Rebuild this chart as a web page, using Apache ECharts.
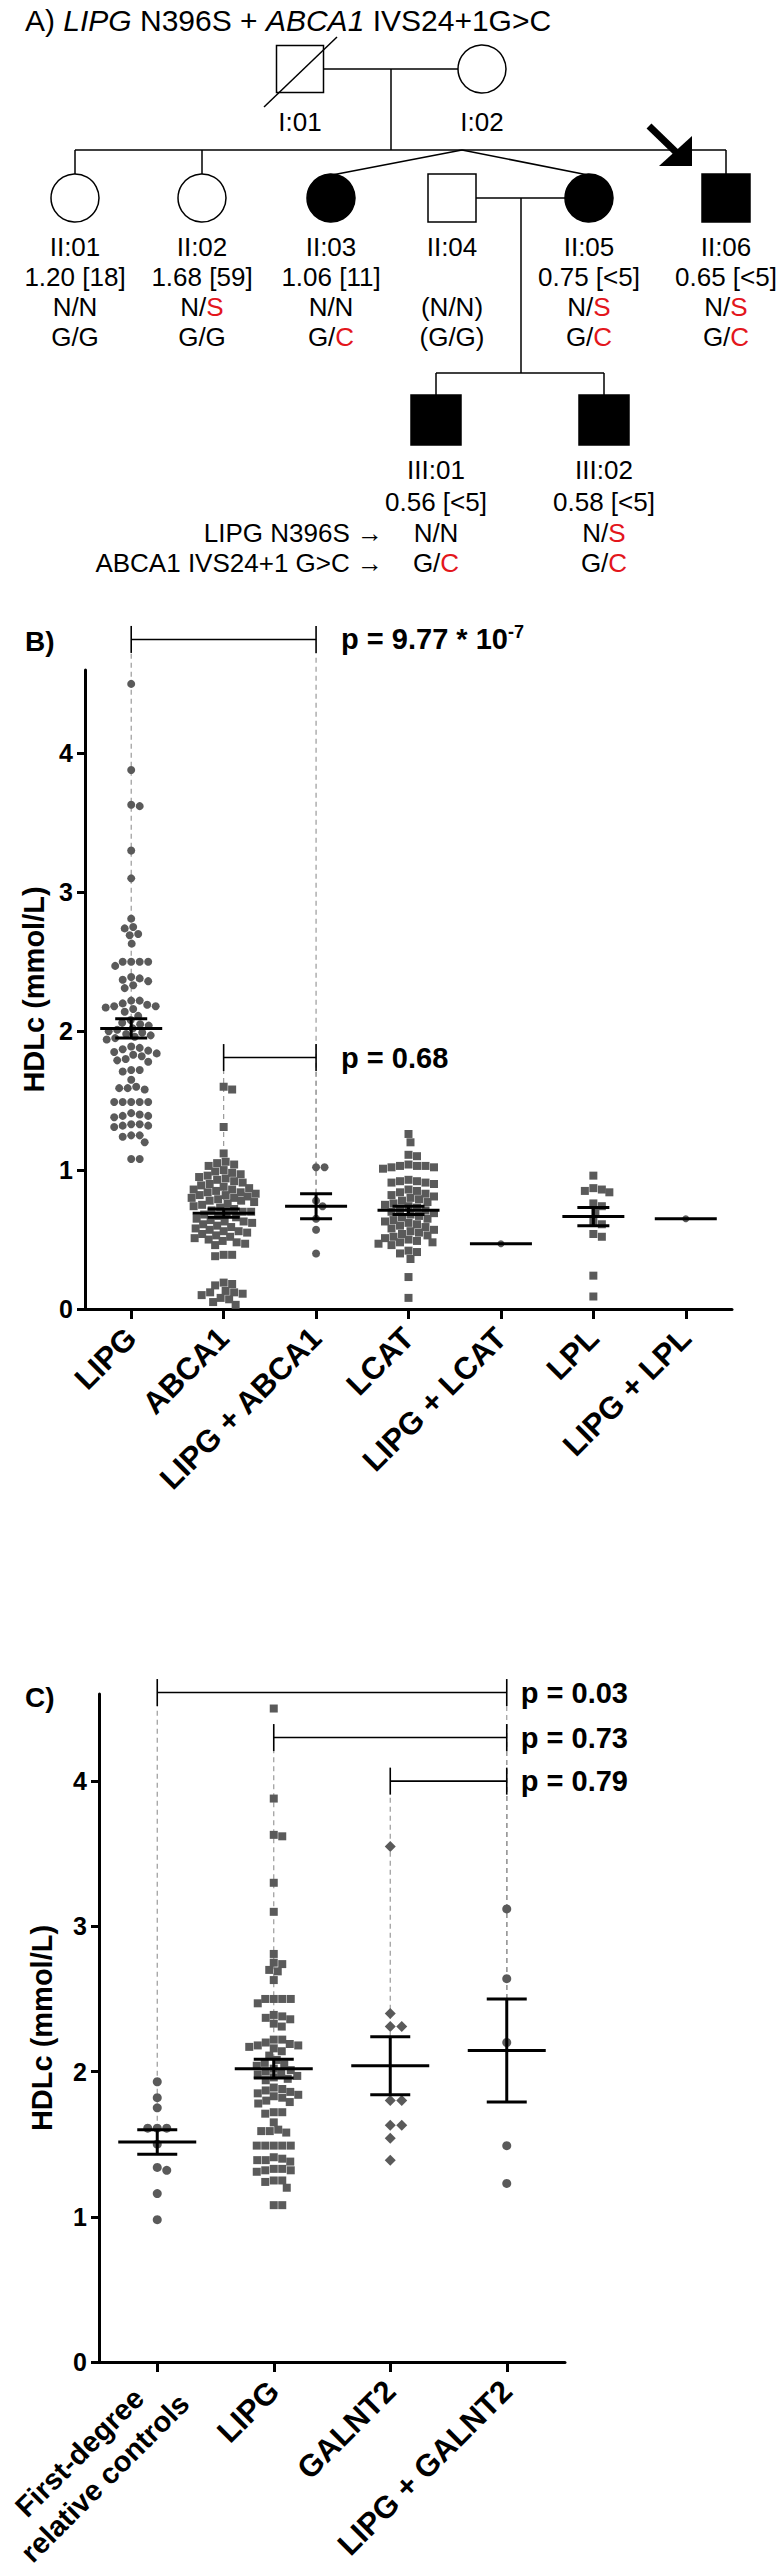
<!DOCTYPE html>
<html><head><meta charset="utf-8">
<script src="https://cdn.jsdelivr.net/npm/echarts@6/dist/echarts.min.js"></script>
<style>html,body{margin:0;padding:0;background:#fff}#c{width:783px;height:2573px}</style>
</head><body><div id="c"></div>
<script>
// ================= DATA =================
// Panel A pedigree
const pedTitle = ['A) ', 'LIPG', ' N396S + ', 'ABCA1', ' IVS24+1G>C'];
const pedIdsI = ['I:01', 'I:02'];
const pedIdsII = ['II:01', 'II:02', 'II:03', 'II:04', 'II:05', 'II:06'];
const pedHdlII = ['1.20 [18]', '1.68 [59]', '1.06 [11]', '', '0.75 [<5]', '0.65 [<5]'];
const pedLipgII = ['N/N', 'N/S', 'N/N', '(N/N)', 'N/S', 'N/S'];
const pedAbcaII = ['G/G', 'G/G', 'G/C', '(G/G)', 'G/C', 'G/C'];
const pedIdsIII = ['III:01', 'III:02'];
const pedHdlIII = ['0.56 [<5]', '0.58 [<5]'];
const pedLipgIII = ['N/N', 'N/S'];
const pedAbcaIII = ['G/C', 'G/C'];
const pedRowNames = ['LIPG N396S \u2192', 'ABCA1 IVS24+1 G>C \u2192'];

// Panel B
const catsB = ['LIPG', 'ABCA1', 'LIPG + ABCA1', 'LCAT', 'LIPG + LCAT', 'LPL', 'LIPG + LPL'];
const lipgHdl = [4.50, 3.88, 3.63, 3.62, 3.30, 3.10,
  2.81, 2.75, 2.74, 2.70, 2.69, 2.63,
  2.50, 2.50, 2.50, 2.50, 2.47,
  2.39, 2.38, 2.37, 2.36, 2.33, 2.31,
  2.22, 2.22, 2.20, 2.19, 2.18, 2.18, 2.17, 2.16, 2.14, 2.11,
  2.08, 2.06, 2.05, 2.04, 2.02, 2.01, 2.00, 1.99, 1.98, 1.97, 1.96, 1.95, 1.94,
  1.89, 1.88, 1.87, 1.86, 1.85, 1.84, 1.83, 1.82, 1.80, 1.79, 1.78,
  1.72, 1.72, 1.71, 1.65,
  1.60, 1.59, 1.58, 1.59,
  1.49, 1.49, 1.49, 1.49, 1.49,
  1.40, 1.39, 1.38, 1.39, 1.41,
  1.33, 1.32, 1.31, 1.32, 1.33,
  1.25, 1.24, 1.25, 1.20,
  1.08, 1.08];
const abca1Hdl = [1.60, 1.58, 1.31, 1.12,
  1.06, 1.05, 1.04, 1.03,
  1.00, 0.99, 0.98, 0.97, 0.96, 0.95, 0.94,
  0.93, 0.92, 0.91, 0.90, 0.89, 0.88,
  0.87, 0.86, 0.86, 0.85, 0.84, 0.84, 0.83,
  0.82, 0.82, 0.81, 0.80, 0.80, 0.79, 0.78, 0.78, 0.77,
  0.76, 0.75, 0.74, 0.73, 0.72, 0.71, 0.70,
  0.70, 0.69, 0.68, 0.67, 0.66, 0.65, 0.64, 0.63,
  0.63, 0.62, 0.61, 0.60, 0.59, 0.58, 0.57, 0.56,
  0.56, 0.55, 0.54, 0.53, 0.52, 0.51, 0.50,
  0.49, 0.48, 0.47, 0.46,
  0.39, 0.38, 0.39,
  0.19, 0.18, 0.17, 0.13, 0.12, 0.12, 0.11, 0.10, 0.08, 0.07, 0.05, 0.03];
const lipgAbca1Hdl = [1.02, 1.02, 0.78, 0.74, 0.65, 0.57, 0.40];
const lcatHdl = [1.26, 1.20, 1.11, 1.10,
  1.04, 1.03, 1.03, 1.02, 1.02, 1.01, 1.03,
  0.93, 0.92, 0.91, 0.91, 0.90, 0.92,
  0.86, 0.85, 0.84, 0.83, 0.82, 0.81, 0.80,
  0.79, 0.78, 0.77, 0.76, 0.75, 0.74, 0.73, 0.72,
  0.71, 0.70, 0.69, 0.68, 0.67, 0.66, 0.65,
  0.64, 0.63, 0.62, 0.61, 0.60, 0.59, 0.58, 0.57, 0.56,
  0.55, 0.54, 0.53, 0.52, 0.51, 0.50,
  0.49, 0.48, 0.48, 0.47, 0.46,
  0.42, 0.40, 0.41, 0.36,
  0.23, 0.08];
const lipgLcatHdl = [0.47];
const lplHdl = [0.96, 0.86, 0.84, 0.85, 0.87, 0.76, 0.74, 0.70, 0.63, 0.61, 0.52, 0.54, 0.24, 0.09];
const lipgLplHdl = [0.65];
const meanB = [2.02, 0.69, 0.74, 0.71, 0.47, 0.665, 0.65];
const semB = [0.07, 0.03, 0.09, 0.03, 0, 0.065, 0];
const bracketFromB = [0, 1];
const bracketToB = [2, 2];
const bracketYB = [4.82, 1.81];
const pMainB = ['p = 9.77 * 10', 'p = 0.68'];
const pExpB = ['-7', ''];

// Panel C
const catsC = ['First-degree\nrelative controls', 'LIPG', 'GALNT2', 'LIPG + GALNT2'];
const controlsHdl = [1.93, 1.82, 1.75, 1.61, 1.61, 1.61, 1.50, 1.34, 1.32, 1.16, 0.98];
const galnt2Hdl = [3.55, 2.40, 2.31, 2.31, 1.80, 1.80, 1.63, 1.63, 1.54, 1.39];
const lipgGalnt2Hdl = [3.12, 2.64, 2.20, 1.49, 1.23];
const meanC = [1.515, 2.02, 2.04, 2.145];
const semC = [0.085, 0.065, 0.20, 0.355];
const bracketFromC = [0, 1, 2];
const bracketToC = [3, 3, 3];
const bracketYC = [4.61, 4.30, 4.00];
const pMainC = ['p = 0.03', 'p = 0.73', 'p = 0.79'];
const pExpC = ['', '', ''];

const yTicks = [0, 1, 2, 3, 4];
const yMax = 4.6;

// ================= LAYOUT / STYLE =================
const FF = '"Liberation Sans", Arial, Helvetica, sans-serif';
const RED = '#e3161c';
const DOT = '#5a5a5a';
const gridB = { left: 85, top: 670, width: 647, height: 639 };
const gridC = { left: 99, top: 1694, width: 466, height: 668 };

function swarm(values, unit, d, maxHalf) {
  const idx = values.map((_, i) => i).sort((a, b) => values[b] - values[a]);
  const placed = [];
  const off = new Array(values.length).fill(0);
  const cands = [0];
  for (let s = 0.5; s <= maxHalf + 1e-9; s += 0.5) cands.push(s, -s);
  for (const i of idx) {
    const y = values[i] * unit;
    let best = 0, bestD = -1;
    for (const x of cands) {
      let m = Infinity;
      for (const p of placed) {
        const dy = p.y - y;
        if (Math.abs(dy) < d) { const dd = Math.hypot(p.x - x, dy); if (dd < m) m = dd; }
      }
      if (m >= d) { best = x; bestD = m; break; }
      if (m > bestD) { bestD = m; best = x; }
    }
    placed.push({ x: best, y }); off[i] = best;
  }
  return off;
}

function scatterSeries(values, cat, axisIdx, unit, symbol, size, maxHalf) {
  const off = swarm(values, unit, size + 0.5, maxHalf);
  return {
    type: 'scatter', xAxisIndex: axisIdx, yAxisIndex: axisIdx, symbol, symbolSize: size,
    itemStyle: { color: DOT, opacity: 1 }, z: 3, silent: true, animation: false,
    data: values.map((v, i) => ({ value: [cat, v], symbolOffset: [off[i], 0] }))
  };
}

function meanSemSeries(means, sems, axisIdx, halfMean, halfCap) {
  return {
    type: 'custom', xAxisIndex: axisIdx, yAxisIndex: axisIdx, z: 5, silent: true, animation: false, clip: false,
    encode: { x: 0, y: 1 },
    data: means.map((m, i) => [i, m, sems[i]]),
    renderItem: (params, api) => {
      const x = api.value(0), m = api.value(1), s = api.value(2);
      const c = api.coord([x, m]);
      const st = { stroke: '#000', lineWidth: 3 };
      const ch = [{ type: 'line', shape: { x1: c[0] - halfMean, y1: c[1], x2: c[0] + halfMean, y2: c[1] }, style: st }];
      if (s > 0) {
        const hi = api.coord([x, m + s]), lo = api.coord([x, m - s]);
        ch.push({ type: 'line', shape: { x1: c[0], y1: hi[1], x2: c[0], y2: lo[1] }, style: st });
        ch.push({ type: 'line', shape: { x1: c[0] - halfCap, y1: hi[1], x2: c[0] + halfCap, y2: hi[1] }, style: st });
        ch.push({ type: 'line', shape: { x1: c[0] - halfCap, y1: lo[1], x2: c[0] + halfCap, y2: lo[1] }, style: st });
      }
      return { type: 'group', children: ch };
    }
  };
}

function bracketSeries(from, to, ys, pMain, pExp, means, sems, axisIdx, textGap) {
  return {
    type: 'custom', xAxisIndex: axisIdx, yAxisIndex: axisIdx, z: 1, silent: true, animation: false, clip: false,
    encode: { x: 0, y: 2 },
    data: from.map((f, i) => [f, to[i], ys[i], means[f] + sems[f], means[to[i]] + sems[to[i]]]),
    renderItem: (params, api) => {
      const i = params.dataIndex;
      const a = api.coord([api.value(0), api.value(2)]);
      const b = api.coord([api.value(1), api.value(2)]);
      const e1 = api.coord([api.value(0), api.value(3)]);
      const e2 = api.coord([api.value(1), api.value(4)]);
      const T = 13.5;
      const solid = { stroke: '#000', lineWidth: 1.6 };
      const dash = { stroke: '#9a9a9a', lineWidth: 1.2, lineDash: [5, 4] };
      const txt = pExp[i] ? `{m|${pMain[i]}}{s|${pExp[i]}}` : `{m|${pMain[i]}}`;
      return {
        type: 'group', children: [
          { type: 'line', shape: { x1: a[0], y1: e1[1], x2: a[0], y2: a[1] + T }, style: dash },
          { type: 'line', shape: { x1: b[0], y1: e2[1], x2: b[0], y2: b[1] + T }, style: dash },
          { type: 'line', shape: { x1: a[0], y1: a[1], x2: b[0], y2: b[1] }, style: solid },
          { type: 'line', shape: { x1: a[0], y1: a[1] - T, x2: a[0], y2: a[1] + T }, style: solid },
          { type: 'line', shape: { x1: b[0], y1: b[1] - T, x2: b[0], y2: b[1] + T }, style: solid },
          {
            type: 'text', x: b[0] + textGap, y: b[1],
            style: {
              text: txt, align: 'left', verticalAlign: 'middle', textAlign: 'left', textVerticalAlign: 'middle',
              rich: {
                m: { fontSize: 29, fontWeight: 'bold', fontFamily: FF, fill: '#000', lineHeight: 33 },
                s: { fontSize: 18, fontWeight: 'bold', fontFamily: FF, fill: '#000', lineHeight: 33, verticalAlign: 'top' }
              }
            }
          }
        ]
      };
    }
  };
}

function xAxisOpt(gi, cats) {
  const lab = {
    rotate: 45, interval: 0, fontSize: 31, fontWeight: 'bold', color: '#000', fontFamily: FF, margin: 24,
    formatter: v => v.indexOf('\n') < 0 ? '{c|' + v + '}' : v.split('\n').map(s => '{d|' + s + '}').join('\n'),
    rich: {
      c: { fontSize: 31, fontWeight: 'bold', color: '#000', fontFamily: FF },
      d: { align: 'center', fontSize: 29, fontWeight: 'bold', color: '#000', fontFamily: FF, lineHeight: 36 }
    }
  };
  return {
    type: 'category', gridIndex: gi, boundaryGap: true,
    data: cats.map(c => c.indexOf('\n') < 0 ? c : { value: c, textStyle: { padding: [10, -10, -10, 0] } }),
    axisLine: { show: true, lineStyle: { color: '#000', width: 3 } },
    axisTick: { show: true, alignWithLabel: true, length: 10, lineStyle: { color: '#000', width: 3 } },
    axisLabel: lab, splitLine: { show: false }
  };
}
function yAxisOpt(gi, nameGap) {
  return {
    type: 'value', gridIndex: gi, min: 0, max: yMax, interval: 1,
    name: 'HDLc (mmol/L)', nameLocation: 'middle', nameGap,
    nameTextStyle: { fontSize: 29, fontWeight: 'bold', color: '#000', fontFamily: FF },
    axisLine: { show: true, lineStyle: { color: '#000', width: 3 } },
    axisTick: { show: true, length: 8, lineStyle: { color: '#000', width: 3 }, customValues: yTicks },
    axisLabel: { fontSize: 25, fontWeight: 'bold', color: '#000', fontFamily: FF, margin: 12, customValues: yTicks },
    splitLine: { show: false }
  };
}

// ================= PEDIGREE (graphic) =================
const PF = 26;
const kStyle = { fontSize: PF, fontFamily: FF, fill: '#000' };
const rStyle = { fontSize: PF, fontFamily: FF, fill: RED };
function genoRich(g) {
  if (g.startsWith('(')) return '{k|' + g + '}';
  const [a, b] = g.split('/');
  const v = (b === 'S' || b === 'C');
  return '{k|' + a + '/}' + (v ? '{r|' + b + '}' : '{k|' + b + '}');
}
function txt(text, x, y, align) {
  return {
    type: 'text', x, y, silent: true,
    style: {
      text, align: align || 'center', verticalAlign: 'middle', textAlign: align || 'center', textVerticalAlign: 'middle',
      fontSize: PF, fontFamily: FF, fill: '#000', rich: { k: kStyle, r: rStyle }
    }
  };
}
function ln(x1, y1, x2, y2, w) { return { type: 'line', silent: true, shape: { x1, y1, x2, y2 }, style: { stroke: '#000', lineWidth: w || 1.5 } }; }
function sq(cx, cy, s, filled) { return { type: 'rect', silent: true, shape: { x: cx - s / 2, y: cy - s / 2, width: s, height: s }, style: { fill: filled ? '#000' : '#fff', stroke: '#000', lineWidth: 1.5 } }; }
function ci(cx, cy, r, filled) { return { type: 'circle', silent: true, shape: { cx, cy, r }, style: { fill: filled ? '#000' : '#fff', stroke: '#000', lineWidth: 1.5 } }; }

const colI = [300, 482];
const colII = [75, 202, 331, 452, 589, 726];
const sexII = ['f', 'f', 'f', 'm', 'f', 'm'];
const affII = [false, false, true, false, true, true];
const colIII = [436, 604];

const g = [];
// title
g.push({
  type: 'text', x: 25, y: 20, silent: true,
  style: {
    text: pedTitle.map((t, i) => (i % 2 === 1 ? '{i|' : '{n|') + t + '}').join(''),
    align: 'left', verticalAlign: 'middle', textAlign: 'left', textVerticalAlign: 'middle',
    fontSize: 30, fontFamily: FF, fill: '#000',
    rich: {
      n: { fontSize: 30, fontFamily: FF, fill: '#000' },
      i: { fontSize: 30, fontFamily: FF, fill: '#000', fontStyle: 'italic' }
    }
  }
});
// generation I
g.push(ln(322, 69, 458, 69));
g.push(ln(391, 69, 391, 150));
g.push(sq(colI[0], 69, 47, false));
g.push(ln(264, 107, 337, 37));
g.push(ci(colI[1], 69, 24, false));
pedIdsI.forEach((t, i) => g.push(txt('{k|' + t + '}', colI[i], 122)));
// generation II
g.push(ln(colII[0], 150, colII[5], 150));
[0, 1, 5].forEach(i => g.push(ln(colII[i], 150, colII[i], 174)));
g.push(ln(462, 150, colII[2] + 1, 175));
g.push(ln(462, 150, colII[4] - 1, 175));
g.push(ln(476, 198, 566, 198));
g.push(ln(521, 198, 521, 373));
colII.forEach((x, i) => g.push(sexII[i] === 'm' ? sq(x, 198, 48, affII[i]) : ci(x, 198, 24, affII[i])));
colII.forEach((x, i) => {
  g.push(txt('{k|' + pedIdsII[i] + '}', x, 247));
  if (pedHdlII[i]) g.push(txt('{k|' + pedHdlII[i] + '}', x, 277));
  g.push(txt(genoRich(pedLipgII[i]), x, 307));
  g.push(txt(genoRich(pedAbcaII[i]), x, 337));
});
// proband arrow
g.push(ln(649, 126, 679, 155, 7));
g.push({ type: 'polygon', silent: true, shape: { points: [[692, 166], [659, 166], [692, 136]] }, style: { fill: '#000' } });
// generation III
g.push(ln(colIII[0], 373, colIII[1], 373));
colIII.forEach(x => g.push(ln(x, 373, x, 395)));
colIII.forEach(x => g.push(sq(x, 420, 50, true)));
colIII.forEach((x, i) => {
  g.push(txt('{k|' + pedIdsIII[i] + '}', x, 470));
  g.push(txt('{k|' + pedHdlIII[i] + '}', x, 502));
  g.push(txt(genoRich(pedLipgIII[i]), x, 533));
  g.push(txt(genoRich(pedAbcaIII[i]), x, 563));
});
g.push(txt('{k|' + pedRowNames[0] + '}', 383, 533, 'right'));
g.push(txt('{k|' + pedRowNames[1] + '}', 383, 563, 'right'));
// panel letters
['B)', 'C)'].forEach((t, i) => g.push({
  type: 'text', x: 25, y: i === 0 ? 641 : 1697, silent: true,
  style: { text: t, align: 'left', verticalAlign: 'middle', textAlign: 'left', textVerticalAlign: 'middle', fontSize: 28, fontWeight: 'bold', fontFamily: FF, fill: '#000' }
}));

// ================= CHART =================
const unitB = gridB.height / yMax;
const unitC = gridC.height / yMax;
const series = [
  bracketSeries(bracketFromB, bracketToB, bracketYB, pMainB, pExpB, meanB, semB, 0, 25),
  bracketSeries(bracketFromC, bracketToC, bracketYC, pMainC, pExpC, meanC, semC, 1, 14),
  scatterSeries(lipgHdl, 0, 0, unitB, 'circle', 8, 31),
  scatterSeries(abca1Hdl, 1, 0, unitB, 'rect', 8, 32),
  scatterSeries(lipgAbca1Hdl, 2, 0, unitB, 'circle', 8, 14),
  scatterSeries(lcatHdl, 3, 0, unitB, 'rect', 8, 32),
  scatterSeries(lipgLcatHdl, 4, 0, unitB, 'circle', 7, 10),
  scatterSeries(lplHdl, 5, 0, unitB, 'rect', 8, 16),
  scatterSeries(lipgLplHdl, 6, 0, unitB, 'circle', 7, 10),
  meanSemSeries(meanB, semB, 0, 31, 16),
  scatterSeries(controlsHdl, 0, 1, unitC, 'circle', 9, 14),
  scatterSeries(lipgHdl, 1, 1, unitC, 'rect', 8, 38),
  scatterSeries(galnt2Hdl, 2, 1, unitC, 'diamond', 11, 14),
  scatterSeries(lipgGalnt2Hdl, 3, 1, unitC, 'circle', 9, 10),
  meanSemSeries(meanC, semC, 1, 39, 20)
];

const chart = echarts.init(document.getElementById('c'), null, { renderer: 'svg', width: 783, height: 2573 });
chart.setOption({
  backgroundColor: '#fff',
  animation: false,
  textStyle: { fontFamily: FF },
  grid: [
    Object.assign({ containLabel: false, outerBoundsMode: 'none' }, gridB),
    Object.assign({ containLabel: false, outerBoundsMode: 'none' }, gridC)
  ],
  xAxis: [xAxisOpt(0, catsB), xAxisOpt(1, catsC)],
  yAxis: [yAxisOpt(0, 35), yAxisOpt(1, 43)],
  graphic: { elements: g },
  series
});
</script></body></html>
